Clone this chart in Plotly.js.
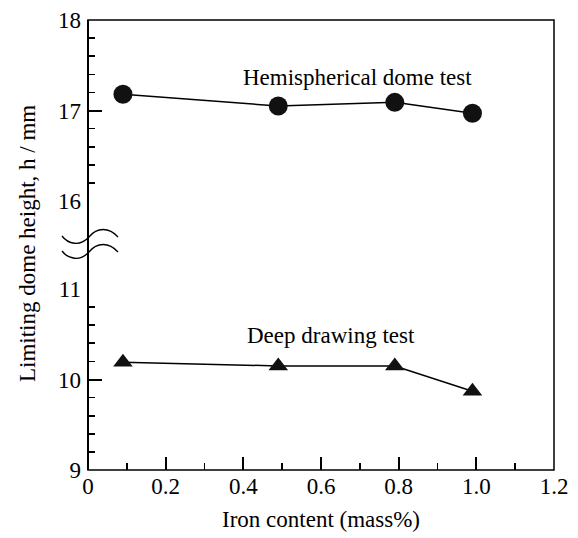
<!DOCTYPE html>
<html>
<head>
<meta charset="utf-8">
<script src="https://cdn.plot.ly/plotly-3.0.1.min.js"></script>
<style>
  html, body { margin: 0; padding: 0; background: #fff; }
  #chart { width: 578px; height: 538px; }
</style>
</head>
<body>
<div id="chart"></div>
<script>
// Iron content (mass%) of each alloy
const ironContent = [0.09, 0.49, 0.79, 0.99];
// Limiting dome height (mm) for each test
const hemisphericalDome = [17.18, 17.05, 17.09, 16.97];
const deepDrawing = [10.19, 10.15, 10.15, 9.87];
// x-axis tick labels
const xTickVals = [0, 0.2, 0.4, 0.6, 0.8, 1.0, 1.2];
const xTickText = ['0', '0.2', '0.4', '0.6', '0.8', '1.0', '1.2'];
// series labels
const seriesNames = ['Hemispherical dome test', 'Deep drawing test'];

const W = 578, H = 538;
const M = { l: 88, r: 24, t: 20, b: 68 };
const PW = W - M.l - M.r, PH = H - M.t - M.b;
const FONT = 'Liberation Serif, Times New Roman, serif';
const FS = 23;

// pixel -> paper coordinates helper for decoration shapes
const px = x => ((x - M.l) / PW).toFixed(4);
const py = y => ((H - M.b - y) / PH).toFixed(4);
function wave(dy) {
  const p = (x, y) => px(x) + ',' + py(y + dy);
  return 'M' + p(62, 236) + ' C' + p(68, 244) + ' ' + p(80, 247) + ' ' + p(89, 237) +
         ' C' + p(97, 227) + ' ' + p(109, 227) + ' ' + p(118, 237);
}

const traces = [
  {
    x: ironContent, y: hemisphericalDome, xaxis: 'x', yaxis: 'y2',
    mode: 'lines+markers', name: seriesNames[0],
    line: { color: '#000', width: 1.5 },
    marker: { symbol: 'circle', size: 19, color: '#111' }
  },
  {
    x: ironContent, y: deepDrawing, xaxis: 'x', yaxis: 'y',
    mode: 'lines+markers', name: seriesNames[1],
    line: { color: '#000', width: 1.5 },
    marker: { symbol: 'triangle-up', size: 17, color: '#111' }
  }
];

const yCommon = {
  dtick: 1, ticks: 'inside', ticklen: 14, tickwidth: 2, tickcolor: '#000',
  minor: { dtick: 0.2, ticks: 'inside', ticklen: 7, tickwidth: 1.6, tickcolor: '#000' },
  showgrid: false, zeroline: false, showline: false,
  tickfont: { family: FONT, size: FS, color: '#000' }, ticklabelstandoff: 6
};

const layout = {
  width: W, height: H,
  margin: M,
  paper_bgcolor: '#fff', plot_bgcolor: '#fff',
  showlegend: false,
  font: { family: FONT, size: FS, color: '#000' },
  xaxis: {
    range: [0, 1.2], anchor: 'y',
    tickvals: xTickVals, ticktext: xTickText,
    ticks: 'inside', ticklen: 13, tickwidth: 2, tickcolor: '#000',
    minor: { dtick: 0.1, ticks: 'inside', ticklen: 7, tickwidth: 1.6, tickcolor: '#000' },
    showgrid: false, zeroline: false, showline: false,
    tickfont: { family: FONT, size: FS, color: '#000' },
    title: { text: 'Iron content (mass%)', font: { family: FONT, size: FS, color: '#000' }, standoff: 12 }
  },
  yaxis: Object.assign({ range: [9, 11], domain: [0, 181 / PH], anchor: 'x' }, yCommon),
  yaxis2: Object.assign({ range: [16, 18], domain: [269 / PH, 1], anchor: 'x' }, yCommon),
  annotations: [
    { xref: 'x', yref: 'y2', x: 0.693, y: 17.36, text: seriesNames[0], showarrow: false,
      font: { family: FONT, size: FS, color: '#000' } },
    { xref: 'x', yref: 'y', x: 0.626, y: 10.49, text: seriesNames[1], showarrow: false,
      font: { family: FONT, size: FS, color: '#000' } },
    { xref: 'paper', yref: 'paper', x: px(27), y: py(244), text: 'Limiting dome height, h / mm',
      textangle: -90, showarrow: false, xanchor: 'center', yanchor: 'middle',
      font: { family: FONT, size: FS, color: '#000' } }
  ],
  shapes: [
    { type: 'rect', xref: 'paper', yref: 'paper', x0: 0, x1: 1, y0: 0, y1: 1,
      line: { color: '#000', width: 1.5 } },
    { type: 'line', xref: 'paper', yref: 'paper', x0: 0, x1: 0, y0: 0, y1: 1,
      line: { color: '#000', width: 2 } },
    { type: 'path', xref: 'paper', yref: 'paper', path: wave(0), line: { color: '#000', width: 1.3 } },
    { type: 'path', xref: 'paper', yref: 'paper', path: wave(15), line: { color: '#000', width: 1.3 } }
  ]
};

Plotly.newPlot('chart', traces, layout, { displayModeBar: false, staticPlot: true });
</script>
</body>
</html>
